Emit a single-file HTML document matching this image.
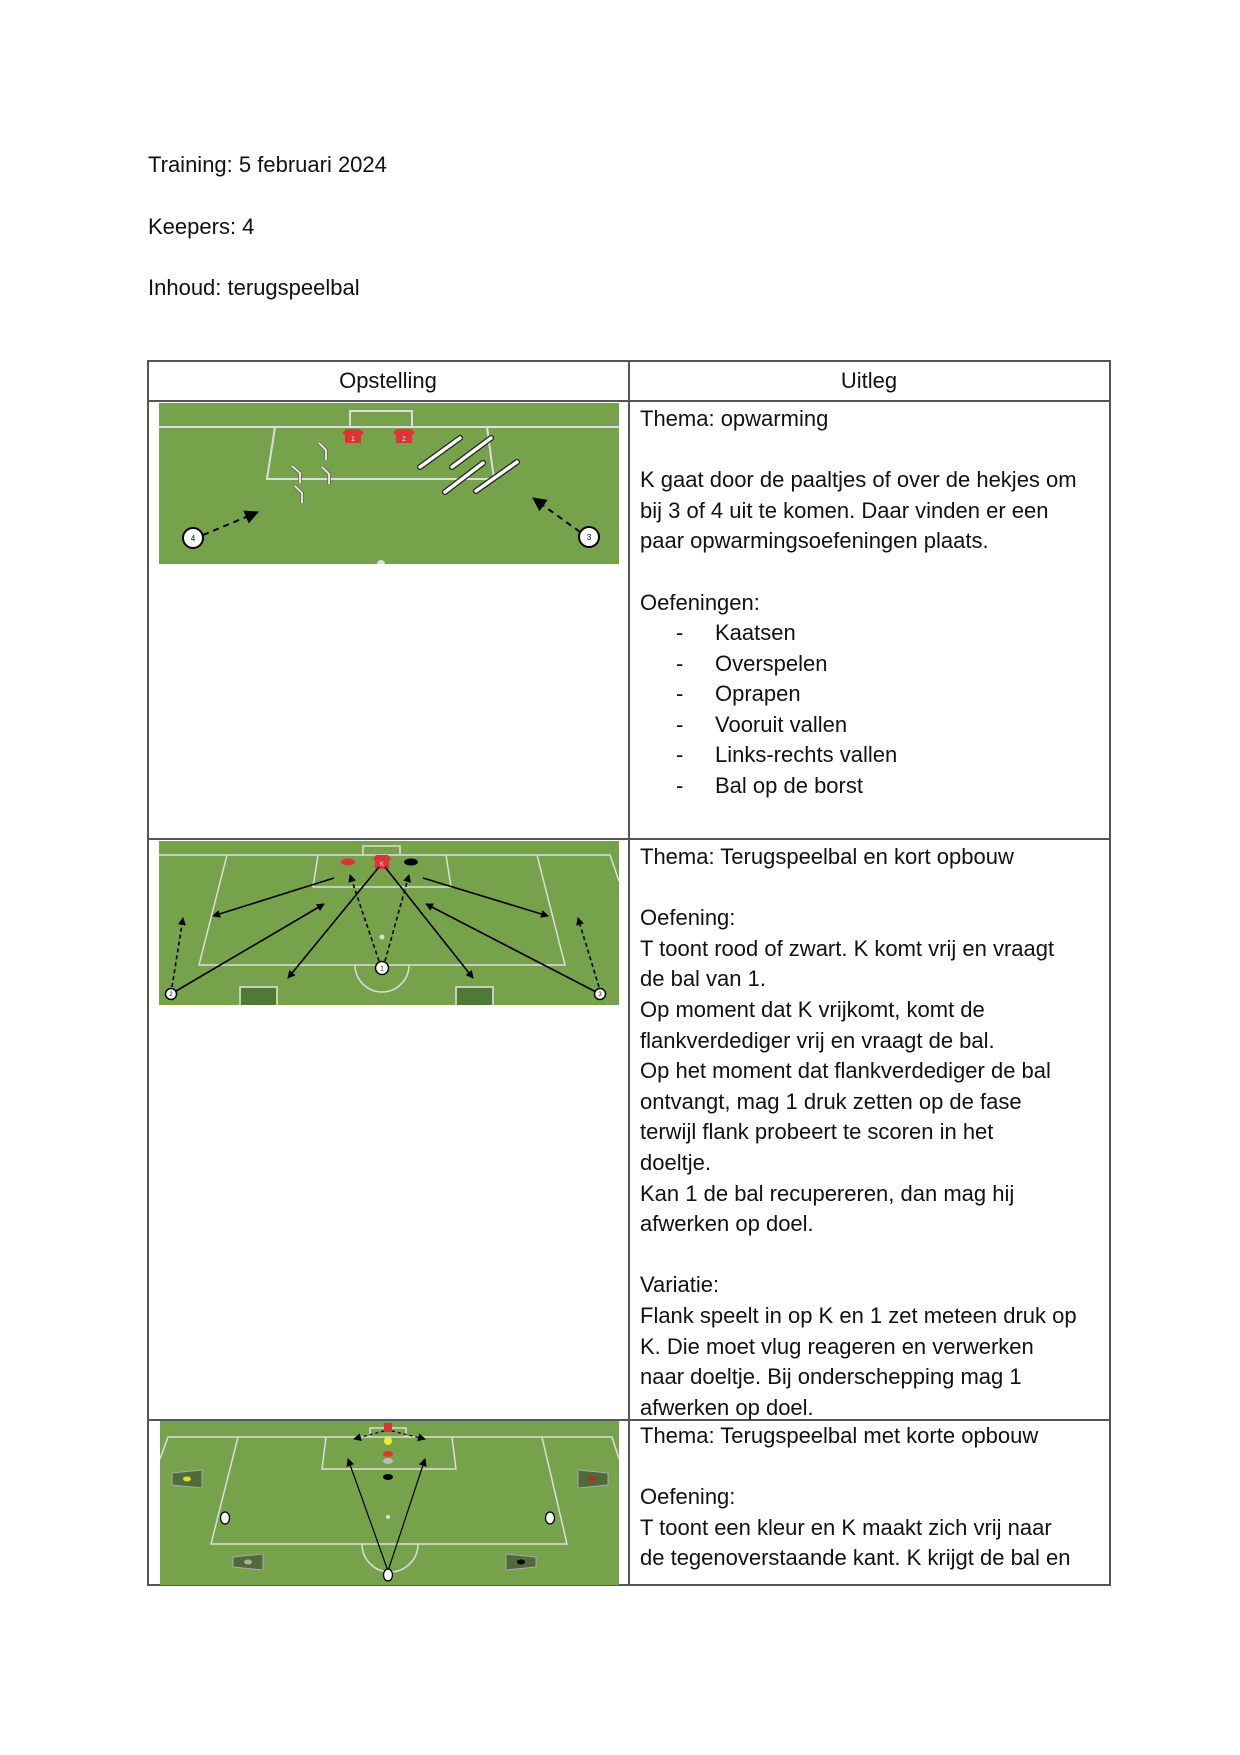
<!DOCTYPE html>
<html><head><meta charset="utf-8"><style>
body{margin:0;background:#fff;width:1240px;height:1755px;position:relative;font-family:"Liberation Sans",sans-serif;color:#111;font-size:22px}
.t{position:absolute;white-space:nowrap;line-height:30px}
.b{position:absolute;background:#555}
svg{position:absolute}
</style></head><body>
<div class="t" style="left:148px;top:150px">Training: 5 februari 2024</div>
<div class="t" style="left:148px;top:212px">Keepers: 4</div>
<div class="t" style="left:148px;top:273px">Inhoud: terugspeelbal</div>

<div class="b" style="left:147px;top:360px;width:963px;height:1.5px"></div>
<div class="b" style="left:147px;top:400px;width:963px;height:1.5px"></div>
<div class="b" style="left:147px;top:838px;width:963px;height:1.5px"></div>
<div class="b" style="left:147px;top:1419px;width:963px;height:1.5px"></div>
<div class="b" style="left:147px;top:1584px;width:963px;height:2px"></div>
<div class="b" style="left:147px;top:360px;width:1.5px;height:1226px"></div>
<div class="b" style="left:628px;top:360px;width:1.5px;height:1226px"></div>
<div class="b" style="left:1109px;top:360px;width:1.5px;height:1226px"></div>

<div class="t" style="left:148px;width:480px;text-align:center;top:366px">Opstelling</div>
<div class="t" style="left:629px;width:480px;text-align:center;top:366px">Uitleg</div>

<div class="t" style="left:640px;top:404px;line-height:30.6px">Thema: opwarming<br><br>K gaat door de paaltjes of over de hekjes om<br>bij 3 of 4 uit te komen. Daar vinden er een<br>paar opwarmingsoefeningen plaats.<br><br>Oefeningen:</div>
<div class="t" style="left:676px;top:618px;line-height:30.6px">-<br>-<br>-<br>-<br>-<br>-</div>
<div class="t" style="left:715px;top:618px;line-height:30.6px">Kaatsen<br>Overspelen<br>Oprapen<br>Vooruit vallen<br>Links-rechts vallen<br>Bal op de borst</div>

<div class="t" style="left:640px;top:842px;line-height:30.6px">Thema: Terugspeelbal en kort opbouw<br><br>Oefening:<br>T toont rood of zwart. K komt vrij en vraagt<br>de bal van 1.<br>Op moment dat K vrijkomt, komt de<br>flankverdediger vrij en vraagt de bal.<br>Op het moment dat flankverdediger de bal<br>ontvangt, mag 1 druk zetten op de fase<br>terwijl flank probeert te scoren in het<br>doeltje.<br>Kan 1 de bal recupereren, dan mag hij<br>afwerken op doel.<br><br>Variatie:<br>Flank speelt in op K en 1 zet meteen druk op<br>K. Die moet vlug reageren en verwerken<br>naar doeltje. Bij onderschepping mag 1<br>afwerken op doel.</div>

<div class="t" style="left:640px;top:1421px;line-height:30.6px">Thema: Terugspeelbal met korte opbouw<br><br>Oefening:<br>T toont een kleur en K maakt zich vrij naar<br>de tegenoverstaande kant. K krijgt de bal en</div>

<svg width="0" height="0"><defs>
<marker id="ah" markerWidth="8" markerHeight="8" refX="7" refY="4" orient="auto" markerUnits="userSpaceOnUse"><path d="M0,0 L8,4 L0,8z" fill="#000"/></marker>
<marker id="ah2" markerWidth="14" markerHeight="14" refX="13" refY="7" orient="auto" markerUnits="userSpaceOnUse"><path d="M0,0 L14,7 L0,14z" fill="#000"/></marker>
</defs></svg>

<svg style="left:159px;top:403px" width="460" height="161" viewBox="0 0 460 161">
<rect width="460" height="161" fill="#76a24c"/>
<g stroke="#ddd" stroke-width="2" fill="none">
<line x1="0" y1="24" x2="460" y2="24"/>
<polyline points="191,24 191,8 253,8 253,24"/>
<polyline points="116,24 108,76 335,76 328,24"/>
</g>
<g fill="#d33"><path d="M187,26 h14 l4,4 -3,2 v8 h-16 v-8 l-3,-2z"/><path d="M238,26 h14 l4,4 -3,2 v8 h-16 v-8 l-3,-2z"/></g>
<text x="194" y="38" font-size="7" fill="#fff" text-anchor="middle">1</text>
<text x="245" y="38" font-size="7" fill="#fff" text-anchor="middle">2</text>
<g stroke="#666" stroke-width="3.5" fill="none">
<polyline points="160,40 167,47 167,57"/><polyline points="133,63 141,70 141,80"/><polyline points="163,64 170,71 170,81"/><polyline points="136,83 143,90 143,100"/>
</g>
<g stroke="#eee" stroke-width="1.8" fill="none">
<polyline points="160,40 167,47 167,57"/><polyline points="133,63 141,70 141,80"/><polyline points="163,64 170,71 170,81"/><polyline points="136,83 143,90 143,100"/>
</g>
<g stroke-linecap="round"><g stroke="#222" stroke-width="6"><line x1="261" y1="64" x2="301" y2="35"/><line x1="293" y1="64" x2="332" y2="35"/><line x1="286" y1="89" x2="324" y2="60"/><line x1="317" y1="88" x2="358" y2="59"/></g>
<g stroke="#fff" stroke-width="3.5"><line x1="261" y1="64" x2="301" y2="35"/><line x1="293" y1="64" x2="332" y2="35"/><line x1="286" y1="89" x2="324" y2="60"/><line x1="317" y1="88" x2="358" y2="59"/></g></g>
<g stroke="#000" stroke-width="2" stroke-dasharray="6,5">
<line x1="44" y1="132" x2="99" y2="109" marker-end="url(#ah2)"/>
<line x1="421" y1="129" x2="374" y2="95" marker-end="url(#ah2)"/>
</g>
<circle cx="34" cy="135" r="10" fill="#fff" stroke="#000" stroke-width="2"/><text x="34" y="138" font-size="8" text-anchor="middle">4</text>
<circle cx="430" cy="134" r="10" fill="#fff" stroke="#000" stroke-width="2"/><text x="430" y="137" font-size="8" text-anchor="middle">3</text>
<circle cx="222" cy="161" r="4" fill="#ddd"/>
</svg>

<svg style="left:159px;top:841px" width="460" height="164" viewBox="0 0 460 164">
<rect width="460" height="164" fill="#76a24c"/>
<g stroke="#ddd" stroke-width="1.5" fill="none">
<polyline points="0,14 451,14 460,40"/>
<polyline points="204,14 204,5 241,5 241,14"/>
<polyline points="159,14 154,46 292,46 287,14"/>
<polyline points="68,14 40,124 406,124 378,14"/>
<path d="M196,124 A27,27 0 0 0 250,124"/>
<polyline points="81,164 81,146 118,146 118,164"/>
<polyline points="297,164 297,146 334,146 334,164"/>
</g>
<rect x="82" y="147" width="35" height="17" fill="#4f7a36"/><rect x="298" y="147" width="35" height="17" fill="#4f7a36"/>
<ellipse cx="189" cy="21" rx="7" ry="3.5" fill="#d33"/><ellipse cx="252" cy="21" rx="7" ry="3.5" fill="#000"/>
<path d="M217,14 h12 l3,4 -2,2 v8 h-14 v-8 l-2,-2z" fill="#d33"/><text x="223" y="25" font-size="6" fill="#fff" text-anchor="middle">K</text>
<circle cx="223" cy="96" r="2.5" fill="#ddd"/>
<g stroke="#000" stroke-width="1.6" fill="none">
<line x1="175" y1="37" x2="54" y2="75" marker-end="url(#ah)"/>
<line x1="264" y1="37" x2="389" y2="75" marker-end="url(#ah)"/>
<line x1="12" y1="153" x2="165" y2="63" marker-end="url(#ah)"/>
<line x1="441" y1="153" x2="267" y2="63" marker-end="url(#ah)"/>
<line x1="220" y1="26" x2="129" y2="137" marker-end="url(#ah)"/>
<line x1="226" y1="26" x2="314" y2="137" marker-end="url(#ah)"/>
<g stroke-dasharray="4,3">
<line x1="220" y1="120" x2="191" y2="34" marker-end="url(#ah)"/>
<line x1="226" y1="120" x2="250" y2="34" marker-end="url(#ah)"/>
<line x1="13" y1="146" x2="24" y2="77" marker-end="url(#ah)"/>
<line x1="440" y1="146" x2="419" y2="77" marker-end="url(#ah)"/>
</g></g>
<g fill="#fff" stroke="#000" stroke-width="1.5"><circle cx="223" cy="127" r="6.5"/><circle cx="12" cy="153" r="5.5"/><circle cx="441" cy="153" r="5.5"/></g>
<g font-size="6" text-anchor="middle"><text x="223" y="129.5">1</text><text x="12" y="155">2</text><text x="441" y="155">3</text></g>
</svg>

<svg style="left:160px;top:1421px" width="459" height="164" viewBox="0 0 459 164">
<rect width="459" height="164" fill="#76a24c"/>
<g stroke="#ddd" stroke-width="1.5" fill="none">
<polyline points="0,38 8,16 452,16 459,38"/>
<polyline points="210,16 210,7 246,7 246,16"/>
<polyline points="166,16 162,48 296,48 292,16"/>
<polyline points="78,16 51,123 407,123 382,16"/>
<path d="M202,123 A28,28 0 0 0 258,123"/>
</g>
<g fill="#4f6b3a" stroke="#aaa" stroke-width="1">
<path d="M12,52 l30,-3 v18 l-30,-3z"/><path d="M418,49 l30,3 v12 l-30,3z"/>
<path d="M73,136 l30,-3 v16 l-30,-3z"/><path d="M346,133 l30,3 v10 l-30,3z"/>
</g>
<ellipse cx="27" cy="58" rx="4" ry="2.5" fill="#dd2"/><ellipse cx="432" cy="58" rx="4" ry="2.5" fill="#c22"/>
<ellipse cx="88" cy="141" rx="4" ry="2.5" fill="#aaa"/><ellipse cx="361" cy="141" rx="4" ry="2.5" fill="#000"/>
<rect x="224" y="2" width="8" height="9" fill="#d33"/>
<circle cx="228" cy="20" r="4" fill="#ee3"/>
<ellipse cx="228" cy="33" rx="5" ry="3" fill="#d33"/>
<ellipse cx="228" cy="40" rx="5" ry="3" fill="#bbb"/>
<ellipse cx="228" cy="56" rx="5" ry="3" fill="#000"/>
<circle cx="228" cy="96" r="2" fill="#ddd"/>
<g stroke="#000" stroke-width="1.2" fill="none">
<line x1="228" y1="150" x2="188" y2="38" marker-end="url(#ah)"/>
<line x1="228" y1="150" x2="265" y2="38" marker-end="url(#ah)"/>
<g stroke-dasharray="3,3"><line x1="224" y1="10" x2="194" y2="18" marker-end="url(#ah)"/><line x1="232" y1="10" x2="265" y2="18" marker-end="url(#ah)"/></g>
</g>
<g fill="#fff" stroke="#000" stroke-width="1.3"><ellipse cx="65" cy="97" rx="4.5" ry="6"/><ellipse cx="390" cy="97" rx="4.5" ry="6"/><ellipse cx="228" cy="154" rx="4.5" ry="6"/></g>
</svg>
</body></html>
